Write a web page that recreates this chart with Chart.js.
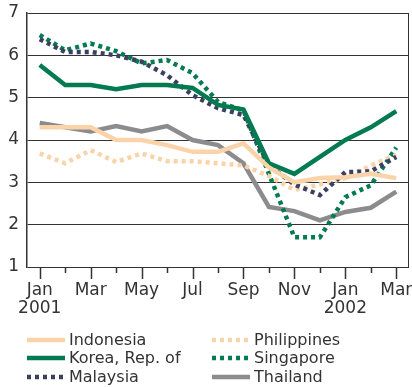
<!DOCTYPE html>
<html>
<head>
<meta charset="utf-8">
<title>Interest rates, East Asia</title>
<script src="https://cdn.jsdelivr.net/npm/chart.js@4/dist/chart.umd.min.js"></script>
<style>
  html, body { margin: 0; padding: 0; background: #fff; }
  #wrap { width: 412px; height: 387px; }
</style>
</head>
<body>
<div id="wrap"><canvas id="chart" width="412" height="387"></canvas></div>
<script>
// months Jan 2001 .. Mar 2002
const months = ['Jan','Feb','Mar','Apr','May','Jun','Jul','Aug','Sep','Oct','Nov','Dec','Jan','Feb','Mar'];
const yearLabels = { 0: '2001', 12: '2002' };

const indonesia   = [4.3, 4.3, 4.3, 4.0, 4.0, 3.88, 3.72, 3.72, 3.92, 3.35, 3.0, 3.1, 3.12, 3.2, 3.1];
const korea       = [5.77, 5.3, 5.3, 5.2, 5.3, 5.3, 5.23, 4.83, 4.72, 3.45, 3.2, 3.6, 4.0, 4.3, 4.68];
const malaysia    = [6.38, 6.08, 6.08, 6.0, 5.85, 5.53, 5.06, 4.75, 4.59, 3.4, 2.95, 2.7, 3.24, 3.26, 3.6];
const philippines = [3.68, 3.45, 3.76, 3.48, 3.68, 3.5, 3.5, 3.45, 3.4, 3.15, 2.82, 2.95, 3.1, 3.4, 3.65];
const singapore   = [6.48, 6.12, 6.28, 6.1, 5.81, 5.89, 5.58, 4.9, 4.7, 3.2, 1.7, 1.7, 2.65, 2.93, 3.82];
const thailand    = [4.4, 4.3, 4.2, 4.33, 4.2, 4.33, 4.0, 3.88, 3.45, 2.42, 2.32, 2.1, 2.3, 2.4, 2.78];

const PEACH = '#fbd3a9';
const GREEN = '#037a4f';
const NAVY  = '#3b4060';
const GREY  = '#8c8c8e';
const INK   = '#333';
const FONT  = 'DejaVu Sans, Verdana, sans-serif';

function series(label, data, color, dotted) {
  return {
    label, data,
    borderColor: color,
    backgroundColor: color,
    borderWidth: 4.5,
    borderDash: dotted ? [4, 4] : [],
    borderCapStyle: 'butt',
    borderJoinStyle: 'miter',
    pointRadius: 0,
    tension: 0,
    fill: false,
    dotted
  };
}

// legend laid out in two columns below the axis, plus month tick marks and frame
const extras = {
  id: 'extras',
  afterDraw(chart) {
    const { ctx, chartArea: a } = chart;
    const x = chart.scales.x;
    ctx.save();
    ctx.strokeStyle = INK;
    ctx.lineWidth = 1.5;
    for (let i = 0; i < months.length; i++) {
      const px = Math.round(x.getPixelForTick(i)) + 0.5;
      const len = i % 2 === 0 ? 12 : 6;
      ctx.beginPath();
      ctx.moveTo(px, a.bottom);
      ctx.lineTo(px, a.bottom + len);
      ctx.stroke();
    }
    // right side of the frame
    ctx.lineWidth = 1;
    ctx.beginPath();
    ctx.moveTo(a.right - 0.5, a.top);
    ctx.lineTo(a.right - 0.5, a.bottom);
    ctx.stroke();

    const cols = [27, 212];
    const rows = [340, 358, 377];
    ctx.font = '16px ' + FONT;
    ctx.textBaseline = 'middle';
    chart.data.datasets.forEach((ds, i) => {
      const cx = cols[Math.floor(i / 3)];
      const cy = rows[i % 3];
      ctx.strokeStyle = ds.borderColor;
      ctx.lineWidth = 4.5;
      ctx.lineCap = 'butt';
      ctx.setLineDash(ds.dotted ? [4, 4] : []);
      ctx.beginPath();
      ctx.moveTo(cx, cy);
      ctx.lineTo(cx + 38, cy);
      ctx.stroke();
      ctx.setLineDash([]);
      ctx.fillStyle = INK;
      ctx.fillText(ds.label, cx + 42, cy + 1);
    });
    ctx.restore();
  }
};

new Chart(document.getElementById('chart'), {
  type: 'line',
  data: {
    labels: months,
    datasets: [
      series('Indonesia', indonesia, PEACH, false),
      series('Korea, Rep. of', korea, GREEN, false),
      series('Malaysia', malaysia, NAVY, true),
      series('Philippines', philippines, PEACH, true),
      series('Singapore', singapore, GREEN, true),
      series('Thailand', thailand, GREY, false)
    ]
  },
  options: {
    responsive: false,
    devicePixelRatio: 1,
    animation: false,
    layout: { padding: { top: 13, right: 3, left: 0, bottom: 0 } },
    plugins: { legend: { display: false }, tooltip: { enabled: false } },
    scales: {
      x: {
        offset: true,
        grid: { display: true, drawOnChartArea: false, drawTicks: true, tickLength: 12, tickColor: 'rgba(0,0,0,0)' },
        border: { display: false },
        ticks: {
          autoSkip: false,
          maxRotation: 0,
          padding: 2,
          color: INK,
          font: { family: FONT, size: 17, lineHeight: 1.1 },
          callback: (v, i) => {
            if (i % 2) return '';
            return yearLabels[i] ? [months[i], yearLabels[i]] : months[i];
          }
        },
        afterFit(s) { s.height = 120; s.paddingLeft = 0; s.paddingRight = 0; }
      },
      y: {
        min: 1, max: 7,
        ticks: { stepSize: 1, padding: 8, color: INK, font: { family: FONT, size: 17 } },
        grid: { color: INK, lineWidth: 1, drawTicks: false },
        border: { display: true, color: INK, width: 1.5 },
        afterFit(s) { s.width = 27; s.paddingTop = 0; s.paddingBottom = 0; }
      }
    }
  },
  plugins: [extras]
});
</script>
</body>
</html>
